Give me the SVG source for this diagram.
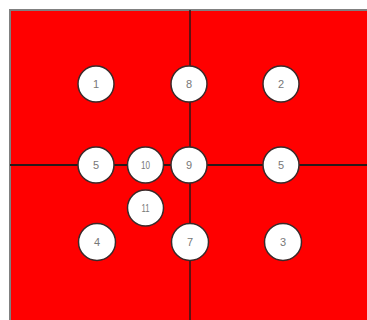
<svg xmlns="http://www.w3.org/2000/svg" width="367" height="320" viewBox="0 0 367 320">
<style>
.n circle{fill:#fff;stroke:#3a2a2a;stroke-width:1.5}
.n text{font-family:"Liberation Sans",Arial,sans-serif;font-size:11px;fill:#777;text-anchor:middle;dominant-baseline:central}
.c line{stroke:#2a1a1a}
</style>
<rect x="0" y="0" width="367" height="320" fill="#fff"/>
<rect id="field" x="10" y="10" width="360" height="314" fill="#ff0000" stroke="#808080" stroke-width="2"/>
<g id="connectors" class="c">
<line x1="190" y1="10" x2="190" y2="320" stroke-width="1.5"/>
<line x1="10" y1="165" x2="367" y2="165" stroke-width="2"/>
</g>
<g id="n1" class="n"><circle cx="96" cy="84" r="18"/><text x="96" y="84">1</text></g>
<g id="n8" class="n"><circle cx="189" cy="84" r="18"/><text x="189" y="84">8</text></g>
<g id="n2" class="n"><circle cx="281" cy="84" r="18"/><text x="281" y="84">2</text></g>
<g id="n5a" class="n"><circle cx="96" cy="165" r="18"/><text x="96" y="165">5</text></g>
<g id="n10" class="n"><circle cx="145.5" cy="165" r="18"/><text x="145.5" y="165" textLength="9" lengthAdjust="spacingAndGlyphs" font-size="10">10</text></g>
<g id="n9" class="n"><circle cx="189" cy="165" r="18"/><text x="189" y="165">9</text></g>
<g id="n5b" class="n"><circle cx="281" cy="165" r="18"/><text x="281" y="165">5</text></g>
<g id="n11" class="n"><circle cx="145.5" cy="208" r="18"/><text x="145.5" y="208" textLength="8" lengthAdjust="spacingAndGlyphs" font-size="10">11</text></g>
<g id="n4" class="n"><circle cx="97" cy="242" r="18.5"/><text x="97" y="242">4</text></g>
<g id="n7" class="n"><circle cx="190" cy="242" r="18.5"/><text x="190" y="242">7</text></g>
<g id="n3" class="n"><circle cx="283" cy="242" r="18.5"/><text x="283" y="242">3</text></g>
</svg>
